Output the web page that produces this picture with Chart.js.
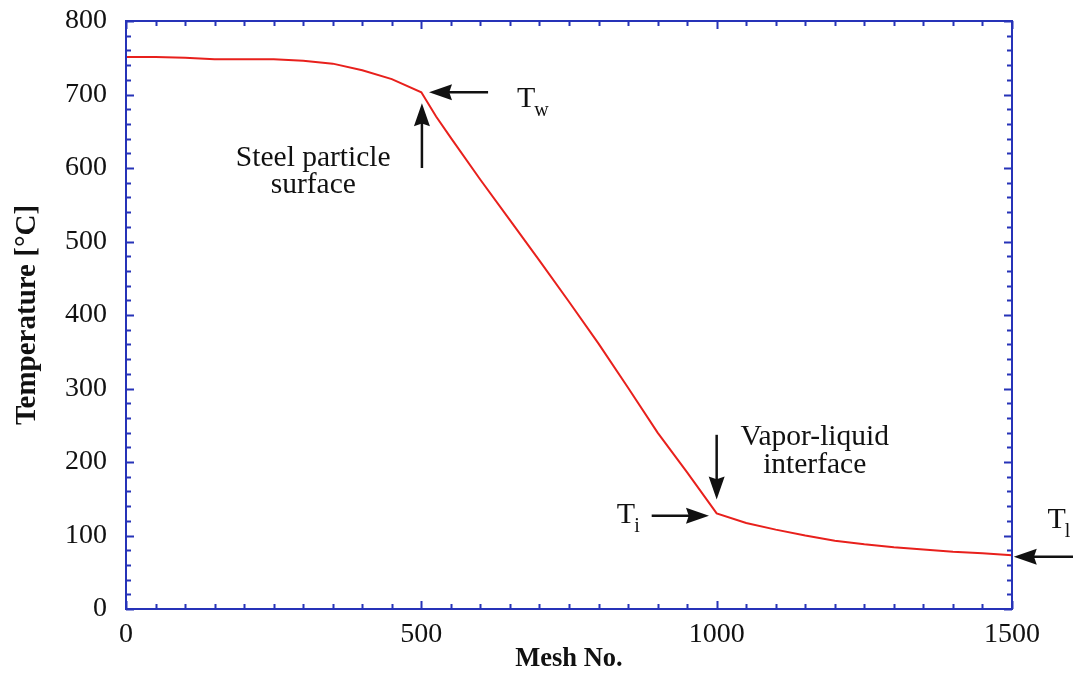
<!DOCTYPE html>
<html>
<head>
<meta charset="utf-8">
<script src="https://cdn.jsdelivr.net/npm/chart.js@4/dist/chart.umd.min.js"></script>
<style>
  html, body { margin: 0; padding: 0; background: #ffffff; }
  #wrap { width: 1073px; height: 675px; }
</style>
</head>
<body>
<div id="wrap"><canvas id="c" width="1073" height="675"></canvas></div>
<script>
// ---- data ----
const meshNo = [0, 50, 100, 150, 200, 250, 300, 350, 400, 450, 500, 525, 550, 600, 650, 700, 750, 800, 850, 900, 950, 1000, 1050, 1100, 1150, 1200, 1250, 1300, 1350, 1400, 1450, 1500];
const temperature = [751, 751, 750, 748, 748, 748, 746, 742, 733, 721, 703, 670, 641, 584, 529, 474, 418, 361, 301, 240, 186, 130, 117, 108, 100, 93, 88, 84, 81, 78, 76, 73];
const xTickValues = [0, 500, 1000, 1500];
const yTickValues = [0, 100, 200, 300, 400, 500, 600, 700, 800];

// annotations in data coordinates (mesh, temperature)
const arrows = [
  { from: [613, 703], to: [513, 703] },   // T_w
  { from: [501, 600], to: [501, 688] },   // steel particle surface
  { from: [890, 127], to: [987, 127] },   // T_i
  { from: [1000, 237], to: [1000, 149] }, // vapor-liquid interface
  { from: [1610, 71], to: [1503, 71] }    // T_l
];
const labels = [
  { text: 'Steel particle', at: [317, 603], align: 'center' },
  { text: 'surface', at: [317, 566], align: 'center' },
  { text: 'Vapor-liquid', at: [1166, 223], align: 'center' },
  { text: 'interface', at: [1166, 185], align: 'center' }
];
const subLabels = [
  { main: 'T', sub: 'w', at: [662, 683] },
  { main: 'T', sub: 'i', at: [831, 117] },
  { main: 'T', sub: 'l', at: [1560, 110] }
];

const AXIS_COLOR = '#2633b8';
const SERIF = '"Liberation Serif", "Times New Roman", serif';

const framePlugin = {
  id: 'frame',
  afterDatasetsDraw(chart) {
    const { ctx, chartArea: a, scales: { x, y } } = chart;
    ctx.save();
    ctx.strokeStyle = AXIS_COLOR;
    ctx.lineWidth = 2;
    ctx.strokeRect(a.left, a.top, a.right - a.left, a.bottom - a.top);
    ctx.beginPath();
    for (let v = 0; v <= 800; v += 20) {
      const py = Math.round(y.getPixelForValue(v)) + 0.5;
      const len = (v % 100 === 0) ? 8 : 5;
      ctx.moveTo(a.left, py); ctx.lineTo(a.left + len, py);
      ctx.moveTo(a.right, py); ctx.lineTo(a.right - len, py);
    }
    for (let v = 0; v <= 1500; v += 50) {
      const px = Math.round(x.getPixelForValue(v)) + 0.5;
      const len = (v % 500 === 0) ? 8 : 5;
      ctx.moveTo(px, a.bottom); ctx.lineTo(px, a.bottom - len);
      ctx.moveTo(px, a.top); ctx.lineTo(px, a.top + len);
    }
    ctx.stroke();

    // arrows
    ctx.strokeStyle = '#111';
    ctx.fillStyle = '#111';
    ctx.lineWidth = 2.5;
    arrows.forEach(ar => {
      const x1 = x.getPixelForValue(ar.from[0]), y1 = y.getPixelForValue(ar.from[1]);
      const x2 = x.getPixelForValue(ar.to[0]), y2 = y.getPixelForValue(ar.to[1]);
      const ang = Math.atan2(y2 - y1, x2 - x1);
      const hl = 23, hw = 8;
      const bx = x2 - hl * Math.cos(ang), by = y2 - hl * Math.sin(ang);
      ctx.beginPath();
      ctx.moveTo(x1, y1); ctx.lineTo(bx + 4 * Math.cos(ang), by + 4 * Math.sin(ang));
      ctx.stroke();
      ctx.beginPath();
      ctx.moveTo(x2, y2);
      ctx.lineTo(bx + hw * Math.sin(ang), by - hw * Math.cos(ang));
      ctx.lineTo(bx + 0.12 * hl * Math.cos(ang), by + 0.12 * hl * Math.sin(ang));
      ctx.lineTo(bx - hw * Math.sin(ang), by + hw * Math.cos(ang));
      ctx.closePath();
      ctx.fill();
    });

    // text labels
    ctx.fillStyle = '#111';
    ctx.textBaseline = 'alphabetic';
    ctx.font = '29.5px ' + SERIF;
    labels.forEach(l => {
      ctx.textAlign = l.align;
      ctx.fillText(l.text, x.getPixelForValue(l.at[0]), y.getPixelForValue(l.at[1]));
    });
    subLabels.forEach(l => {
      const px = x.getPixelForValue(l.at[0]), py = y.getPixelForValue(l.at[1]);
      ctx.textAlign = 'left';
      ctx.font = '30px ' + SERIF;
      ctx.fillText(l.main, px, py);
      const w = ctx.measureText(l.main).width;
      ctx.font = '20px ' + SERIF;
      ctx.fillText(l.sub, px + w - 1, py + 9);
    });
    ctx.restore();
  }
};

new Chart(document.getElementById('c'), {
  type: 'line',
  data: {
    datasets: [{
      data: meshNo.map((m, i) => ({ x: m, y: temperature[i] })),
      borderColor: '#e8201c',
      borderWidth: 2,
      pointRadius: 0,
      tension: 0,
      fill: false
    }]
  },
  options: {
    responsive: false,
    animation: false,
    devicePixelRatio: 1,
    layout: { padding: { left: 0, right: 61, top: 21, bottom: 0 } },
    plugins: { legend: { display: false }, tooltip: { enabled: false } },
    scales: {
      x: {
        type: 'linear', min: 0, max: 1500,
        afterBuildTicks: s => { s.ticks = xTickValues.map(v => ({ value: v })); },
        afterFit: s => { s.height = 66; s.paddingLeft = 0; s.paddingRight = 0; },
        grid: { display: false, drawTicks: false },
        border: { display: false },
        ticks: { color: '#111', padding: 9, maxRotation: 0, font: { family: SERIF, size: 28 },
                 callback: v => String(v) },
        title: { display: true, text: 'Mesh No.', color: '#111', padding: { top: 0, bottom: 0 },
                 font: { family: SERIF, size: 26.5, weight: 'bold' } }
      },
      y: {
        type: 'linear', min: 0, max: 800,
        afterBuildTicks: s => { s.ticks = yTickValues.map(v => ({ value: v })); },
        afterFit: s => { s.width = 126; s.paddingTop = 0; s.paddingBottom = 0; },
        grid: { display: false, drawTicks: false },
        border: { display: false },
        ticks: { color: '#111', padding: 19, font: { family: SERIF, size: 28 },
                 callback: v => String(v) },
        title: { display: true, text: 'Temperature [°C]', color: '#111', padding: { top: 10, bottom: 0 },
                 font: { family: SERIF, size: 29, weight: 'bold' } }
      }
    }
  },
  plugins: [framePlugin]
});
</script>
</body>
</html>
